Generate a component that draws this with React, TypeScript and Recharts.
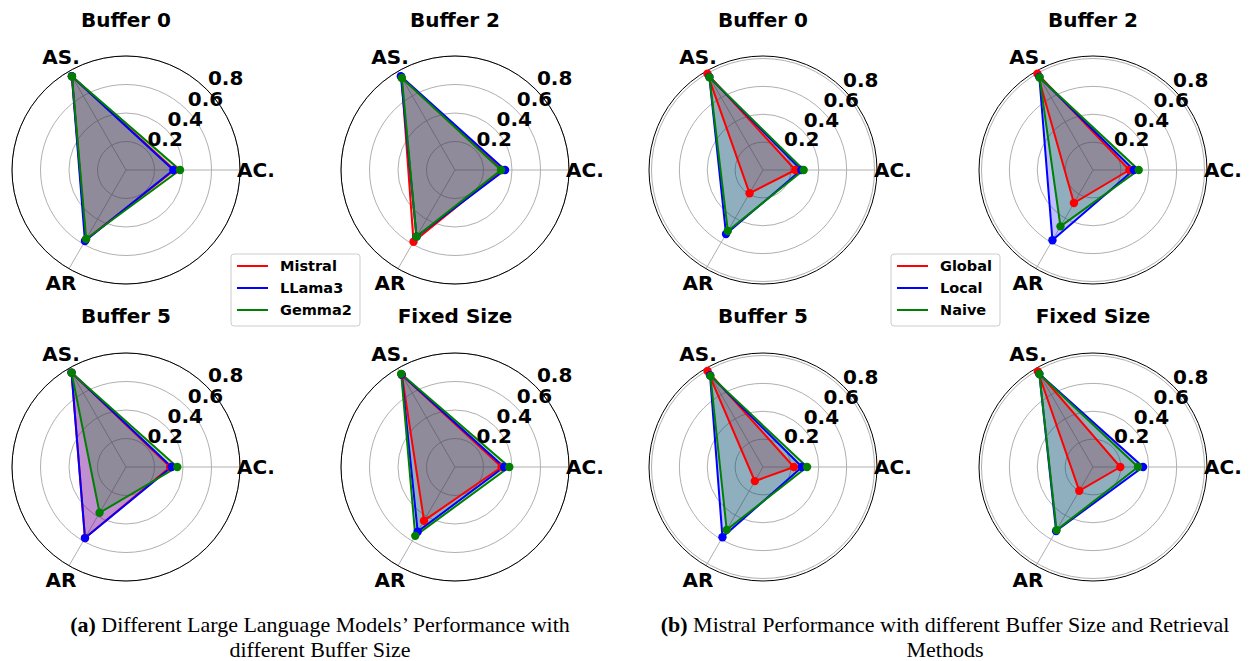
import React from "react";
import { RadarChart, Radar, PolarGrid, PolarAngleAxis, PolarRadiusAxis } from "recharts";

// axes go clockwise from the right: AC. at 0°, AR lower left, AS. upper left
const axes = ["AC.", "AR", "AS."];
const panelTitles = ["Buffer 0", "Buffer 2", "Buffer 5", "Fixed Size"];
const radiusTicks = [0.2, 0.4, 0.6, 0.8];

const modelNames = ["Mistral", "LLama3", "Gemma2"];
const methodNames = ["Global", "Local", "Naive"];
const seriesColors = ["#ff0000", "#0000ff", "#008000"];

// one row per panel (Buffer 0, Buffer 2, Buffer 5, Fixed Size), values in axis order AC., AR, AS.
const mistral = [[0.34, 0.565, 0.76], [0.33, 0.582, 0.75], [0.31, 0.575, 0.765], [0.327, 0.435, 0.745]];
const llama3 = [[0.332, 0.576, 0.76], [0.351, 0.54, 0.76], [0.32, 0.576, 0.765], [0.344, 0.524, 0.75]];
const gemma2 = [[0.379, 0.559, 0.758], [0.323, 0.54, 0.746], [0.36, 0.371, 0.764], [0.381, 0.558, 0.755]];

const globalRet = [[0.232, 0.193, 0.797], [0.261, 0.274, 0.797], [0.222, 0.117, 0.796], [0.196, 0.197, 0.791]];
const localRet = [[0.275, 0.531, 0.77], [0.292, 0.582, 0.77], [0.28, 0.582, 0.76], [0.359, 0.53, 0.77]];
const naiveRet = [[0.292, 0.505, 0.769], [0.328, 0.467, 0.767], [0.316, 0.521, 0.755], [0.323, 0.523, 0.77]];

const FONT = "'DejaVu Sans', sans-serif";
const SIZE = 300;
const R = 114;
const keys = ["s0", "s1", "s2"];

if (typeof document !== "undefined") document.body.style.margin = "0";

function AngleTick(props: any) {
  const { x, y, payload } = props;
  return (
    <text x={x} y={y} textAnchor="middle" dominantBaseline="central" fontSize={20} fontWeight="bold" fontFamily={FONT} fill="#000">
      {payload.value}
    </text>
  );
}

function RadiusTick(props: any) {
  const { x, y, payload } = props;
  return (
    <text x={x + 19} y={y - 11} textAnchor="middle" dominantBaseline="central" fontSize={20} fontWeight="bold" fontFamily={FONT} fill="#000">
      {String(payload.value)}
    </text>
  );
}

function Panel({ series, panel, rmax, cx, cy }: { series: number[][][]; panel: number; rmax: number; cx: number; cy: number }) {
  const data = axes.map((axis, i) => ({
    axis,
    s0: series[0][panel][i],
    s1: series[1][panel][i],
    s2: series[2][panel][i],
  }));
  return (
    <div style={{ position: "absolute", left: cx - SIZE / 2, top: cy - SIZE / 2, width: SIZE, height: SIZE }}>
      <RadarChart width={SIZE} height={SIZE} cx={SIZE / 2} cy={SIZE / 2} outerRadius={R} startAngle={0} endAngle={-360} data={data} margin={{ top: 0, right: 0, bottom: 0, left: 0 }}>
        <PolarGrid gridType="circle" stroke="#b0b0b0" strokeWidth={1} />
        <PolarAngleAxis dataKey="axis" axisLineType="circle" axisLine={{ stroke: "#000", strokeWidth: 1 }} tickLine={false} tickSize={16} tick={<AngleTick />} />
        <PolarRadiusAxis type="number" angle={45} domain={[0, rmax]} allowDataOverflow tickCount={0} ticks={radiusTicks} axisLine={false} tickLine={false} tick={<RadiusTick />} />
        {keys.map((key, i) => (
          <Radar
            key={"fill-" + key}
            dataKey={key}
            stroke="none"
            fill={seriesColors[i]}
            fillOpacity={0.25}
            dot={false}
            legendType="none"
            isAnimationActive={false}
          />
        ))}
        {keys.map((key, i) => (
          <Radar
            key={"line-" + key}
            dataKey={key}
            stroke={seriesColors[i]}
            strokeWidth={2}
            fill="none"
            dot={{ r: 4.2, fill: seriesColors[i], stroke: seriesColors[i], strokeWidth: 0, fillOpacity: 1 }}
            isAnimationActive={false}
          />
        ))}
      </RadarChart>
    </div>
  );
}

const centersA = [[126, 170], [455, 170], [126, 467], [455, 467]];
const centersB = [[763, 170], [1093, 170], [763, 467], [1093, 467]];
const titleBaselines = [27, 27, 323, 323];

function LegendBox({ x, y, w, names }: { x: number; y: number; w: number; names: string[] }) {
  return (
    <g>
      <rect x={x} y={y} width={w} height={72} rx={3} fill="#fff" fillOpacity={0.8} stroke="#cccccc" />
      {names.map((n, i) => (
        <g key={n}>
          <line x1={x + 6} x2={x + 37} y1={y + 12 + i * 22} y2={y + 12 + i * 22} stroke={seriesColors[i]} strokeWidth={2} />
          <text x={x + 49} y={y + 17 + i * 22} fontSize={14.5} fontWeight="bold" fontFamily={FONT} fill="#000">
            {n}
          </text>
        </g>
      ))}
    </g>
  );
}

export default function App() {
  const seriesA = [mistral, llama3, gemma2];
  const seriesB = [globalRet, localRet, naiveRet];
  return (
    <div style={{ position: "relative", width: 1255, height: 661, background: "#fff", overflow: "hidden" }}>
      {centersA.map(([cx, cy], p) => (
        <Panel key={"a" + p} series={seriesA} panel={p} rmax={0.8} cx={cx} cy={cy} />
      ))}
      {centersB.map(([cx, cy], p) => (
        <Panel key={"b" + p} series={seriesB} panel={p} rmax={0.818} cx={cx} cy={cy} />
      ))}
      <svg width={1255} height={661} style={{ position: "absolute", left: 0, top: 0, pointerEvents: "none" }}>
        {centersA.map(([cx], p) => (
          <text key={"ta" + p} x={cx} y={titleBaselines[p]} textAnchor="middle" fontSize={20} fontWeight="bold" fontFamily={FONT}>
            {panelTitles[p]}
          </text>
        ))}
        {centersB.map(([cx], p) => (
          <text key={"tb" + p} x={cx} y={titleBaselines[p]} textAnchor="middle" fontSize={20} fontWeight="bold" fontFamily={FONT}>
            {panelTitles[p]}
          </text>
        ))}
        <LegendBox x={231} y={254} w={129} names={modelNames} />
        <LegendBox x={891} y={254} w={109} names={methodNames} />
        <g fontFamily="'Liberation Serif', 'Times New Roman', serif" fontSize={22} fill="#000">
          <text x={320} y={632} textAnchor="middle">
            <tspan fontWeight="bold">(a)</tspan> Different Large Language Models’ Performance with
          </text>
          <text x={320} y={657} textAnchor="middle">different Buffer Size</text>
          <text x={945} y={632} textAnchor="middle">
            <tspan fontWeight="bold">(b)</tspan> Mistral Performance with different Buffer Size and Retrieval
          </text>
          <text x={945} y={657} textAnchor="middle">Methods</text>
        </g>
      </svg>
    </div>
  );
}
